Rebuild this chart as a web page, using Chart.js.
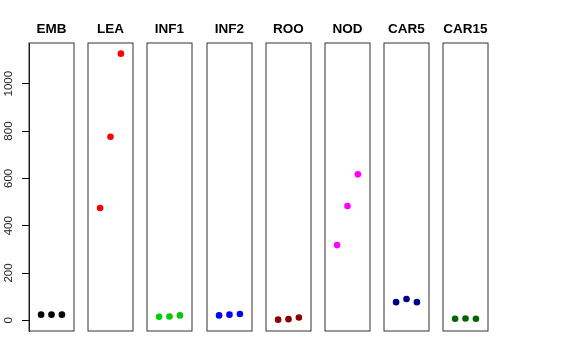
<!DOCTYPE html>
<html lang="en">
<head>
  <meta charset="UTF-8" />
  <title>Panels</title>
  <script src="https://cdn.jsdelivr.net/npm/chart.js"></script>
  <style>
    html, body { margin: 0; padding: 0; background: #fff; }
    #wrap { position: relative; width: 576px; height: 360px; overflow: hidden; }
    .panel { position: absolute; top: 0; height: 360px; }
  </style>
</head>
<body>
  <div id="wrap"></div>

  <script>
    // data
    const panelNames = ['EMB', 'LEA', 'INF1', 'INF2', 'ROO', 'NOD', 'CAR5', 'CAR15'];
    const xPositions = [1, 2, 3];
    const emb   = [24, 24, 24];
    const lea   = [475, 776, 1127];
    const inf1  = [15, 16, 21];
    const inf2  = [21, 24, 27];
    const roo   = [3, 5, 12];
    const nod   = [318, 483, 617];
    const car5  = [77, 90, 77];
    const car15 = [7, 8, 7];
    const panelValues = [emb, lea, inf1, inf2, roo, nod, car5, car15];
    const panelColors = ['#000000', '#FF0000', '#00CD00', '#0000FF', '#8B0000', '#FF00FF', '#00008B', '#006400'];
    const yTicks = [0, 200, 400, 600, 800, 1000];

    // box round the plot area, like R's box()
    const boxPlugin = {
      id: 'box',
      afterDraw(chart) {
        const a = chart.chartArea;
        const c = chart.ctx;
        c.save();
        c.strokeStyle = '#333';
        c.lineWidth = 1;
        c.strokeRect(a.left, a.top, a.right - a.left, a.bottom - a.top);
        c.restore();
      }
    };

    const wrap = document.getElementById('wrap');
    const panelW = 45;
    const side = 8;
    const axisW = 29;

    panelNames.forEach((name, i) => {
      const first = i === 0;
      const plotLeft = Math.round(axisW + 59.2 * i);
      const div = document.createElement('div');
      div.className = 'panel';
      const left = first ? 0 : plotLeft - side;
      const width = first ? plotLeft + panelW + side : panelW + 2 * side;
      div.style.left = left + 'px';
      div.style.width = width + 'px';
      const canvas = document.createElement('canvas');
      div.appendChild(canvas);
      wrap.appendChild(div);

      new Chart(canvas, {
        type: 'scatter',
        data: {
          datasets: [{
            data: xPositions.map((x, j) => ({ x: x, y: panelValues[i][j] })),
            backgroundColor: panelColors[i],
            borderWidth: 0,
            pointRadius: 3.3,
            pointHoverRadius: 3.3
          }]
        },
        options: {
          responsive: true,
          maintainAspectRatio: false,
          animation: false,
          events: [],
          layout: { padding: { left: first ? 0 : side, right: side, top: 0, bottom: 29 } },
          plugins: {
            legend: { display: false },
            tooltip: { enabled: false },
            title: {
              display: true,
              fullSize: false,
              text: name,
              color: '#000',
              font: { family: 'Liberation Sans, Arial, sans-serif', size: 13.5, weight: 'bold' },
              padding: { top: 21, bottom: 5.8 }
            }
          },
          scales: {
            x: {
              type: 'linear',
              min: -0.16,
              max: 4.16,
              display: false
            },
            y: {
              min: -45,
              max: 1172,
              display: first,
              afterBuildTicks: s => { s.ticks = yTicks.map(v => ({ value: v })); },
              afterFit: s => { if (first) s.width = axisW; },
              border: { display: true, color: '#000', width: 1 },
              grid: { drawOnChartArea: false, drawTicks: true, tickLength: 7, color: '#000' },
              ticks: {
                autoSkip: false,
                minRotation: 90,
                maxRotation: 90,
                crossAlign: 'center',
                padding: 0,
                color: '#222',
                font: { family: 'Liberation Sans, Arial, sans-serif', size: 11.5 },
                callback: v => String(v)
              }
            }
          }
        },
        plugins: [boxPlugin]
      });
    });
  </script>
</body>
</html>
